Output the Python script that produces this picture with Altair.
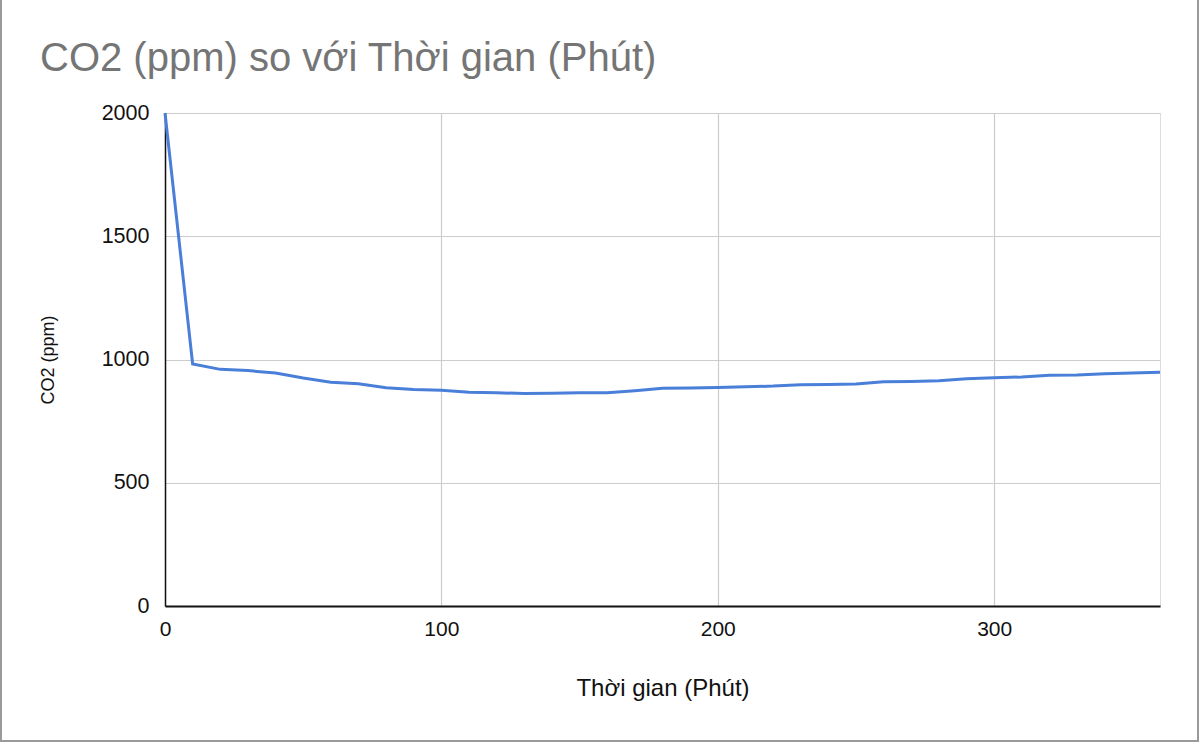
import altair as alt
import pandas as pd

minutes = [0, 10, 20, 30, 40, 50, 60, 70, 80, 90, 100, 110, 120, 130, 140, 150, 160, 170, 180,
           190, 200, 210, 220, 230, 240, 250, 260, 270, 280, 290, 300, 310, 320, 330, 340, 350, 360]
co2 = [2000, 982, 960, 955, 945, 925, 908, 902, 885, 878, 875, 867, 865, 862, 863, 865, 865, 873, 883,
       884, 886, 889, 892, 898, 899, 901, 910, 911, 914, 922, 926, 929, 936, 937, 942, 945, 948]

df = pd.DataFrame({"t": minutes, "co2": co2})

FONT = "Liberation Sans"

line = alt.Chart(df).mark_line(color="#4a7fd9", strokeWidth=3, clip=False).encode(
    x=alt.X("t:Q", scale=alt.Scale(domain=[0, 360], nice=False, zero=True),
            axis=alt.Axis(title="Thời gian (Phút)", values=[0, 100, 200, 300], format="d",
                          labelFontSize=21, labelColor="#111", labelFont=FONT, labelPadding=12,
                          labelFlush=False,
                          titleFontSize=24, titleFont=FONT, titleFontWeight="normal", titleColor="#111",
                          titlePadding=37, domainColor="#111", domainWidth=1.8, ticks=False,
                          gridColor="#cccccc", gridWidth=1.2)),
    y=alt.Y("co2:Q", scale=alt.Scale(domain=[0, 2000], nice=False),
            axis=alt.Axis(title="CO2 (ppm)", values=[0, 500, 1000, 1500, 2000], format="d",
                          labelFontSize=21.5, labelColor="#111", labelFont=FONT, labelPadding=16,
                          labelFlush=False,
                          titleFontSize=18, titleFont=FONT, titleFontWeight="normal", titleColor="#111",
                          titlePadding=44, domainColor="#111", domainWidth=1.5, ticks=False,
                          gridColor="#cccccc", gridWidth=1.2)),
)

border = alt.Chart(pd.DataFrame({"k": [0]})).mark_rule(color="#9a9a9a", strokeWidth=2, clip=False)
left_b = border.encode(x=alt.value(-164), y=alt.value(-113), y2=alt.value(628))
right_b = border.encode(x=alt.value(1033), y=alt.value(-113), y2=alt.value(628))
bottom_b = border.encode(x=alt.value(-165), x2=alt.value(1034), y=alt.value(628))

chart = alt.layer(line, left_b, right_b, bottom_b).properties(
    width=995, height=493,
    autosize=alt.AutoSizeParams(type="none"),
    padding={"left": 165, "top": 113, "right": 40, "bottom": 138},
    title=alt.TitleParams("CO2 (ppm) so với Thời gian (Phút)", anchor="start", frame="group",
                          fontSize=40, font=FONT, fontWeight="normal", color="#757575",
                          baseline="alphabetic", dx=-125, offset=0, dy=112),
).configure_view(stroke=None).configure(background="white")

chart.save("out.html", embed_options={"renderer": "svg", "actions": False})
